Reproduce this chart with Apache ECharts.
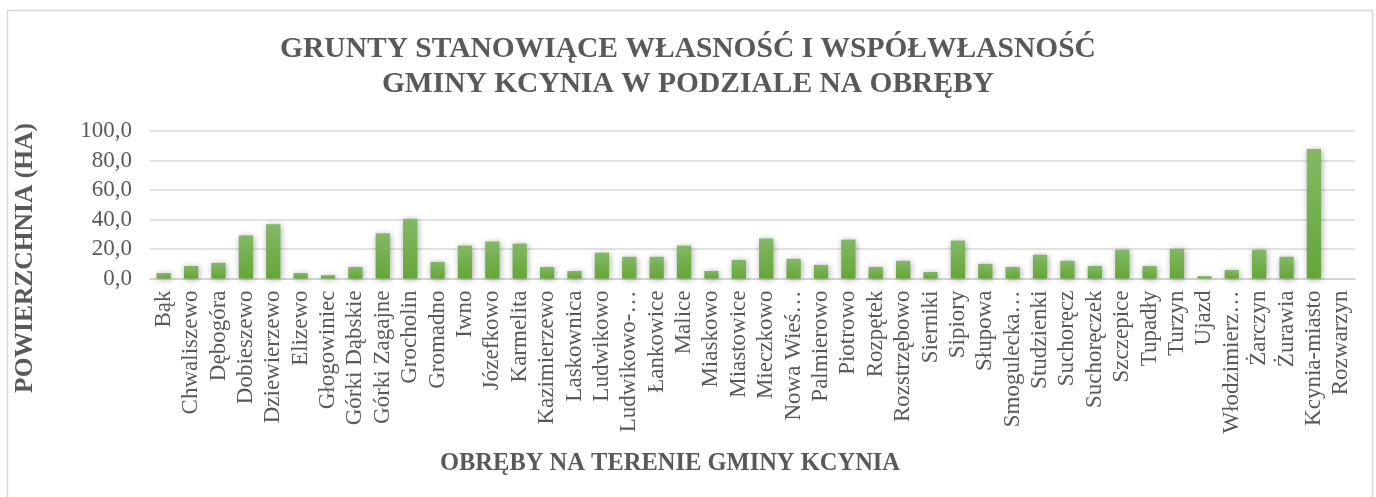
<!DOCTYPE html>
<html>
<head>
<meta charset="utf-8">
<script src="https://cdn.jsdelivr.net/npm/echarts@6/dist/echarts.min.js"></script>
<style>
  html, body { margin: 0; padding: 0; background: #fff; }
  #chart { width: 1376px; height: 497px; }
</style>
</head>
<body>
<div id="chart"></div>
<script>
// Obręby (cadastral districts) of the Kcynia commune
const categories = [
  'Bąk', 'Chwaliszewo', 'Dębogóra', 'Dobieszewo', 'Dziewierzewo', 'Elizewo',
  'Głogowiniec', 'Górki Dąbskie', 'Górki Zagajne', 'Grocholin', 'Gromadno',
  'Iwno', 'Józefkowo', 'Karmelita', 'Kazimierzewo', 'Laskownica', 'Ludwikowo',
  'Ludwikowo-…', 'Łankowice', 'Malice', 'Miaskowo', 'Miastowice', 'Mieczkowo',
  'Nowa Wieś…', 'Palmierowo', 'Piotrowo', 'Rozpętek', 'Rozstrzębowo', 'Sierniki',
  'Sipiory', 'Słupowa', 'Smogulecka…', 'Studzienki', 'Suchoręcz', 'Suchoręczek',
  'Szczepice', 'Tupadły', 'Turzyn', 'Ujazd', 'Włodzimierz…', 'Żarczyn',
  'Żurawia', 'Kcynia-miasto', 'Rozwarzyn'
];

// Area of land owned / co-owned by the commune, in hectares
const areaHa = [
  3.7, 8.5, 10.6, 29.2, 36.8, 3.7,
  2.3, 7.8, 30.6, 40.5, 11.3,
  22.3, 25.1, 23.7, 7.8, 5.1, 17.5,
  14.7, 14.7, 22.3, 5.1, 12.6, 27.1,
  13.3, 9.2, 26.4, 7.8, 12.0, 4.4,
  25.7, 9.9, 7.8, 16.1, 12.0, 8.5,
  19.5, 8.5, 20.2, 1.6, 5.7, 19.5,
  14.7, 87.8, 0
];

const yTicks = { min: 0, max: 100, interval: 20 };

const titleLines = [
  'GRUNTY STANOWIĄCE WŁASNOŚĆ I WSPÓŁWŁASNOŚĆ',
  'GMINY KCYNIA W PODZIALE NA OBRĘBY'
];
const xAxisTitle = 'OBRĘBY NA TERENIE GMINY KCYNIA';
const yAxisTitle = 'POWIERZCHNIA (HA)';

const serif = '"Liberation Serif", "Times New Roman", serif';
const textColor = '#595959';

const chart = echarts.init(document.getElementById('chart'));

chart.setOption({
  animation: false,
  backgroundColor: '#ffffff',
  textStyle: { fontFamily: serif },
  title: {
    text: titleLines.join('\n'),
    left: 'center',
    top: 27,
    textStyle: {
      fontFamily: serif,
      fontSize: 29.5,
      fontWeight: 'bold',
      color: textColor,
      lineHeight: 35
    }
  },
  grid: { left: 150, right: 21, top: 131, bottom: 218.5, containLabel: false },
  xAxis: {
    type: 'category',
    data: categories,
    axisLine: { show: true, lineStyle: { color: '#d0d0d0', width: 1.5 } },
    axisTick: { show: false },
    axisLabel: {
      interval: 0,
      rotate: 90,
      margin: 12,
      fontFamily: serif,
      fontSize: 23,
      color: textColor
    }
  },
  yAxis: {
    type: 'value',
    min: yTicks.min,
    max: yTicks.max,
    interval: yTicks.interval,
    axisLine: { show: false },
    axisTick: { show: false },
    splitLine: { lineStyle: { color: '#d9d9d9', width: 1.5 } },
    axisLabel: {
      margin: 18,
      fontFamily: serif,
      fontSize: 23,
      color: textColor,
      formatter: v => v.toFixed(1).replace('.', ',')
    }
  },
  series: [{
    type: 'bar',
    data: areaHa,
    barWidth: '52%',
    itemStyle: {
      color: new echarts.graphic.LinearGradient(0, 0, 0, 1, [
        { offset: 0, color: '#83b866' },
        { offset: 1, color: '#64a636' }
      ]),
      shadowBlur: 6,
      shadowColor: 'rgba(0,0,0,0.35)',
      shadowOffsetX: 1,
      shadowOffsetY: 1
    }
  }],
  graphic: [
    {
      type: 'rect',
      shape: { x: 7.5, y: 10.5, width: 1365, height: 500 },
      style: { fill: 'none', stroke: '#d9d9d9', lineWidth: 1.5 },
      silent: true
    },
    {
      type: 'text',
      x: 25,
      y: 258,
      rotation: Math.PI / 2,
      style: {
        text: yAxisTitle,
        fontFamily: serif,
        fontSize: 25.5,
        fontWeight: 'bold',
        fill: textColor,
        align: 'center',
        verticalAlign: 'middle'
      }
    },
    {
      type: 'text',
      x: 670,
      y: 464,
      style: {
        text: xAxisTitle,
        fontFamily: serif,
        fontSize: 24.5,
        fontWeight: 'bold',
        fill: textColor,
        align: 'center',
        verticalAlign: 'middle'
      }
    }
  ]
});
</script>
</body>
</html>
